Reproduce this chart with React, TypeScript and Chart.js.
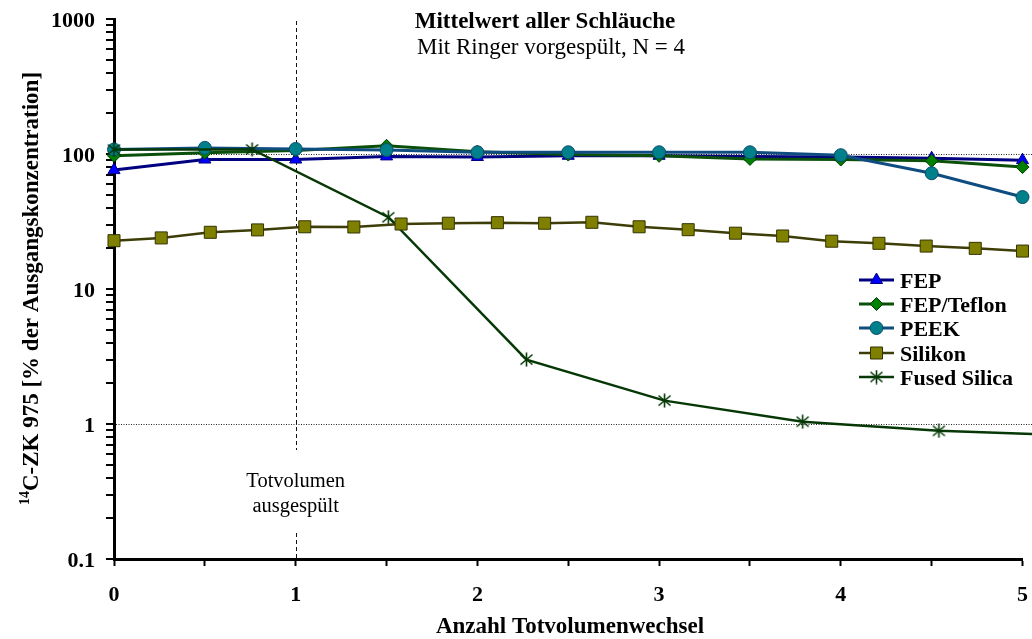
import { useEffect, useRef } from "react";
import { Chart, registerables } from "chart.js";
import { drawPoint } from "chart.js/helpers";

Chart.register(...registerables);

// Rinse steps in units of dead volume (FEP, FEP/Teflon, PEEK share these)
const halfSteps = [0, 0.5, 1, 1.5, 2, 2.5, 3, 3.5, 4, 4.5, 5];
const fepValues = [76, 91, 91, 96, 95, 97, 97, 96, 95, 93, 90];
const fepTeflonValues = [97, 102, 106, 115, 104, 99, 97, 92, 91, 89, 80];
const peekValues = [108, 111, 109, 107, 103, 103, 103, 103, 98, 72, 48];

const silikonSteps = [
  0, 0.26, 0.53, 0.79, 1.05, 1.32, 1.58, 1.84, 2.11, 2.37,
  2.63, 2.89, 3.16, 3.42, 3.68, 3.95, 4.21, 4.47, 4.74, 5,
];
const silikonValues = [
  22.8, 23.9, 26.3, 27.4, 28.9, 28.8, 30.3, 30.7, 31.0, 30.7,
  31.2, 28.9, 27.5, 25.9, 24.7, 22.6, 21.8, 20.8, 20.0, 19.1,
];

const fusedSilicaSteps = [0, 0.76, 1.51, 2.27, 3.03, 3.79, 4.54, 5.3];
const fusedSilicaValues = [108, 108, 34, 3.0, 1.49, 1.04, 0.89, 0.82];

// Axis ticks
const xTickValues = [0, 0.5, 1, 1.5, 2, 2.5, 3, 3.5, 4, 4.5, 5];
const xLabelValues = [0, 1, 2, 3, 4, 5];
const yLabelValues = [0.1, 1, 10, 100, 1000];
const yLabelTexts = ["0.1", "1", "10", "100", "1000"];
const yMinorMultipliers = [1, 2, 3, 4, 5, 6, 7, 8, 9];
const yGridValues = [1, 100];

const titleText = "Mittelwert aller Schläuche";
const subtitleText = "Mit Ringer vorgespült, N = 4";
const xAxisTitle = "Anzahl Totvolumenwechsel";
const yAxisSup = "14";
const yAxisTitle = "C-ZK 975 [% der Ausgangskonzentration]";
const markerLine = 1;
const markerText = ["Totvolumen", "ausgespült"];

const SERIF = '"Liberation Serif", "Times New Roman", serif';

function makeStar(color: string): HTMLCanvasElement {
  const c = document.createElement("canvas");
  c.width = 15;
  c.height = 15;
  const g = c.getContext("2d")!;
  g.strokeStyle = color;
  g.lineWidth = 1.6;
  g.beginPath();
  g.moveTo(7.5, 0.5);
  g.lineTo(7.5, 14.5);
  g.moveTo(1.5, 2.5);
  g.lineTo(13.5, 12.5);
  g.moveTo(13.5, 2.5);
  g.lineTo(1.5, 12.5);
  g.stroke();
  return c;
}

function pts(xs: number[], ys: number[]) {
  return xs.map((x, i) => ({ x, y: ys[i] }));
}

function txt(
  ctx: CanvasRenderingContext2D,
  s: string,
  x: number,
  y: number,
  size: number,
  bold: boolean,
  align: CanvasTextAlign
) {
  ctx.font = `${bold ? "bold " : ""}${size}px ${SERIF}`;
  ctx.textAlign = align;
  ctx.textBaseline = "alphabetic";
  ctx.fillStyle = "#000";
  ctx.fillText(s, x, y);
}

export default function App() {
  const ref = useRef<HTMLCanvasElement | null>(null);

  useEffect(() => {
    const canvas = ref.current;
    if (!canvas) return;
    const star = makeStar("#063806");

    const series = [
      {
        label: "FEP",
        data: pts(halfSteps, fepValues),
        borderColor: "#000080",
        backgroundColor: "#0000ff",
        pointBackgroundColor: "#0000ff",
        pointBorderColor: "#000080",
        pointStyle: "triangle" as any,
        pointRadius: 7,
        borderWidth: 3,
        order: 5,
      },
      {
        label: "FEP/Teflon",
        data: pts(halfSteps, fepTeflonValues),
        borderColor: "#0a500a",
        backgroundColor: "#008000",
        pointBackgroundColor: "#008000",
        pointBorderColor: "#003a00",
        pointStyle: "rectRot" as any,
        pointRadius: 6.5,
        borderWidth: 3,
        order: 4,
      },
      {
        label: "PEEK",
        data: pts(halfSteps, peekValues),
        borderColor: "#0f4c80",
        backgroundColor: "#00808a",
        pointBackgroundColor: "#00808a",
        pointBorderColor: "#0d4a6a",
        pointStyle: "circle" as any,
        pointRadius: 6.5,
        borderWidth: 3,
        order: 3,
      },
      {
        label: "Silikon",
        data: pts(silikonSteps, silikonValues),
        borderColor: "#3d3d08",
        backgroundColor: "#808000",
        pointBackgroundColor: "#808000",
        pointBorderColor: "#333300",
        pointStyle: "rect" as any,
        pointRadius: 8.5,
        borderWidth: 2.5,
        order: 1,
      },
      {
        label: "Fused Silica",
        data: pts(fusedSilicaSteps, fusedSilicaValues),
        borderColor: "#063806",
        backgroundColor: "#063806",
        pointBackgroundColor: "#063806",
        pointBorderColor: "#063806",
        pointStyle: star as any,
        pointRadius: 7,
        borderWidth: 2.5,
        order: 2,
      },
    ];

    const yTicks: number[] = [];
    for (let e = -1; e <= 2; e++) {
      for (const m of yMinorMultipliers) yTicks.push(parseFloat((m * Math.pow(10, e)).toPrecision(3)));
    }
    yTicks.push(1000);

    const decorations = {
      id: "decorations",
      beforeDatasetsDraw(chart: Chart) {
        const { ctx, chartArea } = chart;
        const xs = chart.scales.x;
        const ys = chart.scales.y;
        ctx.save();
        // dotted reference lines at 1 % and 100 %
        ctx.strokeStyle = "#222";
        ctx.lineWidth = 1;
        ctx.setLineDash([1, 1.5]);
        for (const v of yGridValues) {
          const y = Math.round(ys.getPixelForValue(v)) + 0.5;
          ctx.beginPath();
          ctx.moveTo(chartArea.left + 2, y);
          ctx.lineTo(chart.width, y);
          ctx.stroke();
        }
        // dashed marker at one dead volume, interrupted by its label
        const x = Math.round(xs.getPixelForValue(markerLine)) + 0.5;
        ctx.strokeStyle = "#111";
        ctx.setLineDash([4, 3]);
        ctx.beginPath();
        ctx.moveTo(x, chartArea.top + 2);
        ctx.lineTo(x, 450);
        ctx.moveTo(x, 533);
        ctx.lineTo(x, chartArea.bottom);
        ctx.stroke();
        // log-axis tick marks (every integer multiple per decade)
        ctx.setLineDash([]);
        ctx.strokeStyle = "#000";
        ctx.lineWidth = 2;
        for (const v of yTicks) {
          const y = Math.round(ys.getPixelForValue(v));
          ctx.beginPath();
          ctx.moveTo(chartArea.left - 8, y);
          ctx.lineTo(chartArea.left, y);
          ctx.stroke();
        }
        ctx.restore();
      },
      afterDraw(chart: Chart) {
        const { ctx } = chart;
        const xs = chart.scales.x;
        const ys = chart.scales.y;
        ctx.save();
        // tick labels
        yLabelValues.forEach((v, i) => {
          txt(ctx, yLabelTexts[i], 95, ys.getPixelForValue(v) + 7.5, 22, true, "right");
        });
        xLabelValues.forEach((v) => {
          txt(ctx, String(v), xs.getPixelForValue(v), 601, 22, true, "center");
        });
        // titles
        txt(ctx, titleText, 545, 28, 23, true, "center");
        txt(ctx, subtitleText, 551, 54, 23, false, "center");
        txt(ctx, xAxisTitle, 570, 633, 23, true, "center");
        // marker label
        const mx = xs.getPixelForValue(markerLine);
        txt(ctx, markerText[0], mx, 487, 20.5, false, "center");
        txt(ctx, markerText[1], mx, 512, 20.5, false, "center");
        // rotated y axis title with superscript isotope number
        ctx.translate(38, 288.5);
        ctx.rotate(-Math.PI / 2);
        ctx.font = `bold 14px ${SERIF}`;
        const wSup = ctx.measureText(yAxisSup).width;
        ctx.font = `bold 23px ${SERIF}`;
        const wMain = ctx.measureText(yAxisTitle).width;
        const start = -(wSup + wMain) / 2;
        txt(ctx, yAxisSup, start, -9, 14, true, "left");
        txt(ctx, yAxisTitle, start + wSup, 0, 23, true, "left");
        ctx.setTransform(1, 0, 0, 1, 0, 0);
        // legend
        const rows = [280, 304, 328, 353, 377];
        series.forEach((s, i) => {
          const y = rows[i];
          ctx.strokeStyle = s.borderColor;
          ctx.lineWidth = s.borderWidth;
          ctx.setLineDash([]);
          ctx.beginPath();
          ctx.moveTo(859, y);
          ctx.lineTo(894, y);
          ctx.stroke();
          ctx.fillStyle = s.pointBackgroundColor;
          ctx.strokeStyle = s.pointBorderColor;
          ctx.lineWidth = 1;
          drawPoint(ctx, { pointStyle: s.pointStyle, radius: s.pointRadius, rotation: 0, borderWidth: 1 } as any, 876.5, y);
          txt(ctx, s.label, 900, y + 7.5, 22, true, "left");
        });
        ctx.restore();
      },
    };

    const axisBorder = { display: true, color: "#000", width: 3 };

    const chart = new Chart(canvas, {
      type: "line",
      data: {
        datasets: series.map((s) => ({
          ...s,
          fill: false,
          tension: 0,
          pointBorderWidth: 1,
          clip: false as any,
        })),
      },
      options: {
        animation: false,
        responsive: false,
        events: [],
        layout: { padding: { top: 19, right: 4, left: 0, bottom: 0 } },
        plugins: {
          legend: { display: false },
          tooltip: { enabled: false },
          title: { display: false },
        },
        scales: {
          x: {
            type: "linear",
            min: 0,
            max: 5,
            ticks: { display: false },
            grid: {
              drawOnChartArea: false,
              drawTicks: true,
              tickLength: 7,
              tickWidth: 2,
              tickColor: "#000",
            },
            border: axisBorder,
            afterBuildTicks: (s: any) => {
              s.ticks = xTickValues.map((v) => ({ value: v }));
            },
            afterFit: (s: any) => {
              s.height = 80;
            },
          },
          y: {
            type: "logarithmic",
            min: 0.1,
            max: 1000,
            ticks: { display: false },
            grid: { drawOnChartArea: false, drawTicks: false },
            border: axisBorder,
            afterFit: (s: any) => {
              s.width = 114;
            },
          },
        } as any,
      },
      plugins: [decorations as any],
    });

    return () => chart.destroy();
  }, []);

  return (
    <div style={{ position: "absolute", left: 0, top: 0, width: 1032, height: 639, background: "#fff" }}>
      <canvas ref={ref} width={1032} height={639} style={{ display: "block" }} />
    </div>
  );
}
